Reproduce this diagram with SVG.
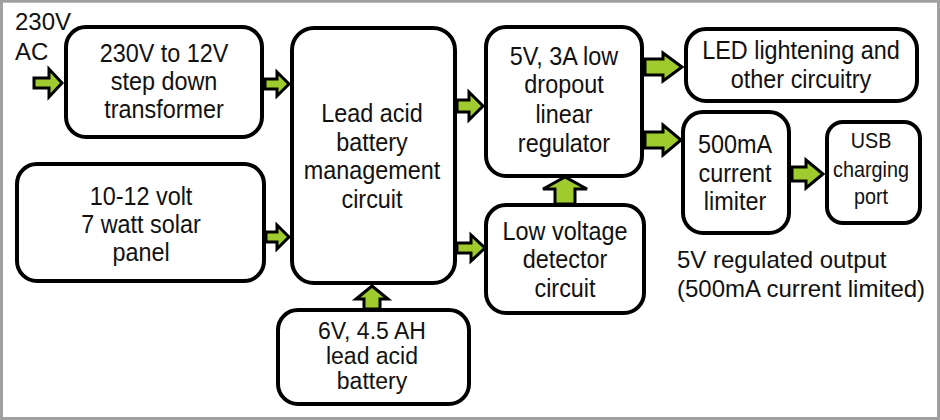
<svg xmlns="http://www.w3.org/2000/svg" width="940" height="420" viewBox="0 0 940 420">
<style>
.box{fill:#fff;stroke:#000;stroke-width:4}
.arr{fill:#9fcb2f;stroke:#000;stroke-width:3;stroke-linejoin:miter}
text{font-family:"Liberation Sans",Arial,sans-serif;font-size:26px;fill:#111;text-anchor:middle}
.lbl{font-size:24px;text-anchor:start}
.usb{font-size:22px}
.bat{font-size:23px}
</style>
<rect x="1.5" y="1.2" width="937" height="417.3" fill="#fff" stroke="#a0a0a0" stroke-width="3"/>
<g id="input-label"><text class="lbl" x="15" y="30">230V</text><text class="lbl" x="15" y="60">AC</text></g>
<g id="transformer"><rect class="box" x="66" y="27" width="196" height="110" rx="20"/>
<g transform="translate(164,0) scale(0.9,1)"><text x="0" y="62">230V to 12V</text><text x="0" y="90">step down</text><text x="0" y="118">transformer</text></g></g>
<g id="solar"><rect class="box" x="17" y="164" width="247" height="117" rx="20"/>
<g transform="translate(141,0) scale(0.9,1)"><text x="0" y="205">10-12 volt</text><text x="0" y="233">7 watt solar</text><text x="0" y="261">panel</text></g></g>
<g id="bms"><rect class="box" x="292" y="28" width="163" height="255" rx="22"/>
<g transform="translate(372,0) scale(0.9,1)"><text x="0" y="122">Lead acid</text><text x="0" y="151">battery</text><text x="0" y="179">management</text><text x="0" y="208">circuit</text></g></g>
<g id="battery"><rect class="box" x="278" y="310" width="191" height="94" rx="20"/>
<text class="bat" x="372" y="339">6V, 4.5 AH</text><text class="bat" x="372" y="364">lead acid</text><text class="bat" x="372" y="389">battery</text></g>
<g id="regulator"><rect class="box" x="486" y="27" width="156" height="149" rx="20"/>
<g transform="translate(564,0) scale(0.9,1)"><text x="0" y="65">5V, 3A low</text><text x="0" y="93">dropout</text><text x="0" y="123">linear</text><text x="0" y="152">regulator</text></g></g>
<g id="detector"><rect class="box" x="486" y="205" width="158" height="108" rx="20"/>
<g transform="translate(565,0) scale(0.9,1)"><text x="0" y="240">Low voltage</text><text x="0" y="268">detector</text><text x="0" y="297">circuit</text></g></g>
<g id="led"><rect class="box" x="686" y="29" width="231" height="72" rx="20"/>
<g transform="translate(801,0) scale(0.9,1)"><text x="0" y="59">LED lightening and</text><text x="0" y="88">other circuitry</text></g></g>
<g id="limiter"><rect class="box" x="683" y="112" width="106" height="121" rx="20"/>
<g transform="translate(735,0) scale(0.9,1)"><text x="0" y="153">500mA</text><text x="0" y="182">current</text><text x="0" y="210">limiter</text></g></g>
<g id="usb"><rect class="box" x="827" y="122" width="93" height="101" rx="16"/>
<g transform="translate(871,0) scale(0.9,1)"><text class="usb" x="0" y="148">USB</text><text class="usb" x="0" y="177">charging</text><text class="usb" x="0" y="204">port</text></g></g>
<g id="output-label"><text class="lbl" x="677" y="268">5V regulated output</text><text class="lbl" x="677" y="297">(500mA current limited)</text></g>
<g id="connectors">
<polygon class="arr" points="34,78 49,78 49,69 62,83 49,97 49,88 34,88"/>
<polygon class="arr" points="265,79 277,79 277,72 289,84 277,96 277,89 265,89"/>
<polygon class="arr" points="266,232 277,232 277,225 289,237 277,249 277,242 266,242"/>
<polygon class="arr" points="457,100 469,100 469,92 483,106 469,120 469,112 457,112"/>
<polygon class="arr" points="457,243 471,243 471,235 485,248 471,261 471,253 457,253"/>
<polygon class="arr" points="645,59 663,59 663,53 682,67 663,81 663,75 645,75"/>
<polygon class="arr" points="645,132 663,132 663,125 681,140 663,155 663,148 645,148"/>
<polygon class="arr" points="792,167 806,167 806,160 823,174 806,188 806,181 792,181"/>
<polygon class="arr" points="555,204 555,189 543,189 565,177 587,189 575,189 575,204"/>
<polygon class="arr" points="364,309 364,299 356,299 372,286 388,299 380,299 380,309"/>
</g>
</svg>
